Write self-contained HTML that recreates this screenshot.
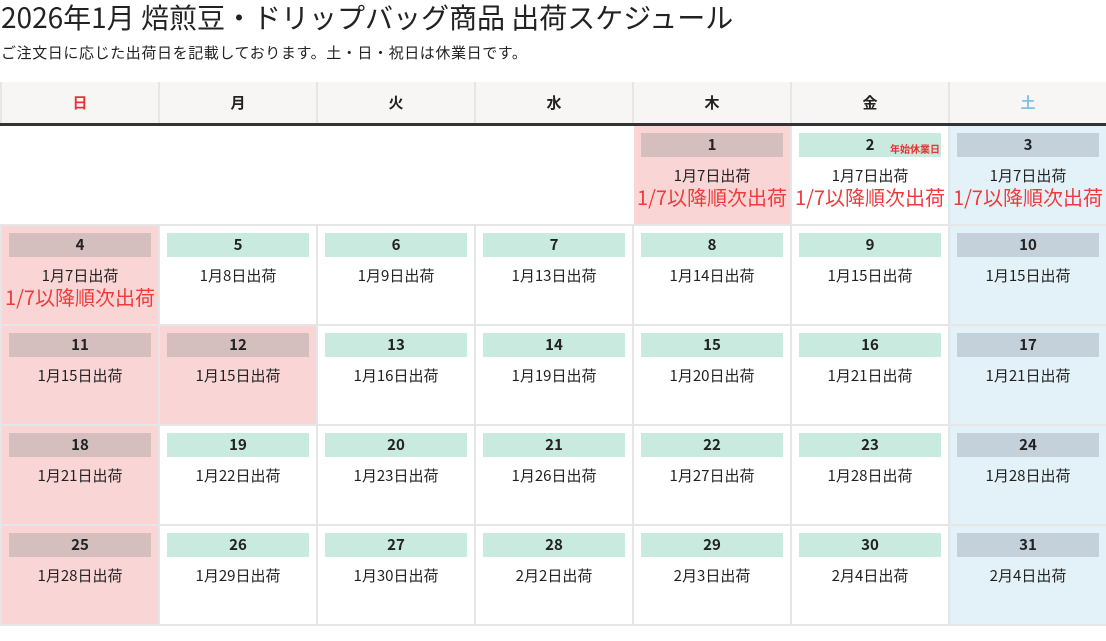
<!DOCTYPE html>
<html><head><meta charset="utf-8"><style>
body{margin:0;width:1106px;height:641px;background:#fff;font-family:"Noto Sans CJK JP",sans-serif;color:#222;overflow:hidden;position:relative}
h1{position:absolute;left:1px;top:-2px;margin:0;font-size:28px;font-weight:normal;line-height:38px;white-space:nowrap}
.sub{position:absolute;left:1px;top:42px;font-size:15px;line-height:22px;letter-spacing:0.6px;white-space:nowrap}
table{position:absolute;left:0;top:82px;border-collapse:collapse;table-layout:fixed;width:1106px}
th{height:41px;background:#f7f6f4;font-size:15px;font-weight:bold;border-left:2px solid #e6e6e6;border-right:2px solid #e6e6e6;border-bottom:3px solid #333;padding:0;line-height:20px}
td{height:98px;vertical-align:top;border:2px solid #e6e6e6;border-top:2px solid #8a8a8a;padding:0;text-align:center;font-size:15px}
td.e{border-left-color:#fff;border-right-color:#fff;border-top:none}
.bar{margin:7px 7px 0;height:24px;line-height:24px;font-weight:bold;font-size:15px;background:#c8eadf;position:relative}
.s{background:#f9d6d5}.s .bar{background:#d5bebe}
.t{background:#e3f1f9}.t .bar{background:#c5d1da}
.l1{margin-top:8px;line-height:22px}
.l2{color:#f03a3a;font-size:20px;line-height:22px;white-space:nowrap;margin:-1px -10px 0}
.note{position:absolute;right:1px;top:10px;font-size:10px;color:#e53333;line-height:12px}
</style></head><body>
<h1>2026年1月 焙煎豆・ドリップバッグ商品 出荷スケジュール</h1>
<div class="sub">ご注文日に応じた出荷日を記載しております。土・日・祝日は休業日です。</div>
<table>
<colgroup><col style="width:158px"><col style="width:158px"><col style="width:158px"><col style="width:158px"><col style="width:158px"><col style="width:158px"><col style="width:158px"></colgroup>
<tr><th style="color:#e53333">日</th><th>月</th><th>火</th><th>水</th><th>木</th><th>金</th><th style="color:#7fc3e3">土</th></tr>
<tr><td class="e"></td><td class="e"></td><td class="e"></td><td class="e"></td>
<td class="s"><div class="bar">1</div><div class="l1">1月7日出荷</div><div class="l2">1/7以降順次出荷</div></td>
<td><div class="bar">2<span class="note">年始休業日</span></div><div class="l1">1月7日出荷</div><div class="l2">1/7以降順次出荷</div></td>
<td class="t"><div class="bar">3</div><div class="l1">1月7日出荷</div><div class="l2">1/7以降順次出荷</div></td></tr>
<tr><td class="s"><div class="bar">4</div><div class="l1">1月7日出荷</div><div class="l2">1/7以降順次出荷</div></td>
<td><div class="bar">5</div><div class="l1">1月8日出荷</div></td>
<td><div class="bar">6</div><div class="l1">1月9日出荷</div></td>
<td><div class="bar">7</div><div class="l1">1月13日出荷</div></td>
<td><div class="bar">8</div><div class="l1">1月14日出荷</div></td>
<td><div class="bar">9</div><div class="l1">1月15日出荷</div></td>
<td class="t"><div class="bar">10</div><div class="l1">1月15日出荷</div></td></tr>
<tr><td class="s"><div class="bar">11</div><div class="l1">1月15日出荷</div></td>
<td class="s"><div class="bar">12</div><div class="l1">1月15日出荷</div></td>
<td><div class="bar">13</div><div class="l1">1月16日出荷</div></td>
<td><div class="bar">14</div><div class="l1">1月19日出荷</div></td>
<td><div class="bar">15</div><div class="l1">1月20日出荷</div></td>
<td><div class="bar">16</div><div class="l1">1月21日出荷</div></td>
<td class="t"><div class="bar">17</div><div class="l1">1月21日出荷</div></td></tr>
<tr><td class="s"><div class="bar">18</div><div class="l1">1月21日出荷</div></td>
<td><div class="bar">19</div><div class="l1">1月22日出荷</div></td>
<td><div class="bar">20</div><div class="l1">1月23日出荷</div></td>
<td><div class="bar">21</div><div class="l1">1月26日出荷</div></td>
<td><div class="bar">22</div><div class="l1">1月27日出荷</div></td>
<td><div class="bar">23</div><div class="l1">1月28日出荷</div></td>
<td class="t"><div class="bar">24</div><div class="l1">1月28日出荷</div></td></tr>
<tr><td class="s"><div class="bar">25</div><div class="l1">1月28日出荷</div></td>
<td><div class="bar">26</div><div class="l1">1月29日出荷</div></td>
<td><div class="bar">27</div><div class="l1">1月30日出荷</div></td>
<td><div class="bar">28</div><div class="l1">2月2日出荷</div></td>
<td><div class="bar">29</div><div class="l1">2月3日出荷</div></td>
<td><div class="bar">30</div><div class="l1">2月4日出荷</div></td>
<td class="t"><div class="bar">31</div><div class="l1">2月4日出荷</div></td></tr>
</table>
</body></html>
